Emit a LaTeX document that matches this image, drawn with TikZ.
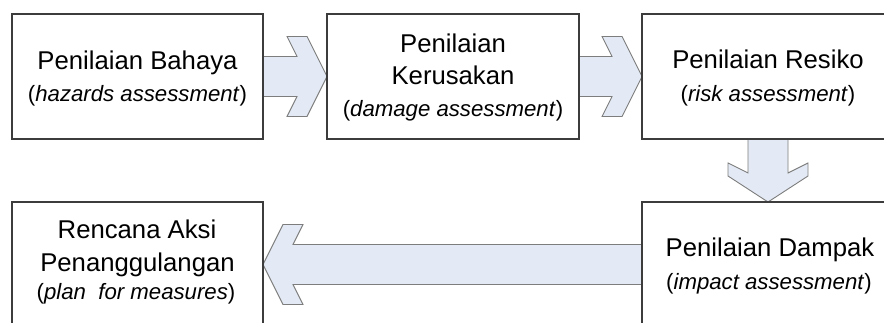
\documentclass[tikz,border=0pt]{standalone}
\usepackage{fontspec}
\setmainfont{Liberation Sans}
\usetikzlibrary{calc,backgrounds}
\definecolor{arrowfill}{RGB}{228,234,245}
\definecolor{arrowline}{RGB}{125,125,125}
\definecolor{boxline}{RGB}{60,60,60}
\tikzset{
  box/.style={draw=boxline, line width=1.2pt, fill=white, minimum height=125pt,
    inner sep=0pt, outer sep=0pt, anchor=north west},
  blockarrow/.style={draw=arrowline, fill=arrowfill, line width=0.9pt, line join=miter},
  maintext/.style={font=\fontsize{25.7}{30}\selectfont, anchor=base, inner sep=0pt},
  subtext/.style={font=\fontsize{22.2}{27}\selectfont, anchor=base, inner sep=0pt},
}
\begin{document}
\begin{tikzpicture}[x=1pt,y=-1pt]
\useasboundingbox (0,0) rectangle (884,323);
\clip (0,0) rectangle (884,323);
% boxes
\node[box, minimum width=251pt] (b1) at (12,14) {};
\node[box, minimum width=252pt] (b2) at (327,14) {};
\node[box, minimum width=252pt] (b3) at (642,14) {};
\node[box, minimum width=252pt] (b4) at (642,202) {};
\node[box, minimum width=251pt] (b5) at (12,202) {};
% block arrows
\begin{scope}[on background layer]
\draw[blockarrow] ($(b1.east)+(0,-20)$) -- ($(b2.west)+(-30,-20)$) -- ($(b2.west)+(-40,-40)$)
  -- ($(b2.west)+(-20,-40)$) -- (b2.west) -- ($(b2.west)+(-20,40)$) -- ($(b2.west)+(-40,40)$)
  -- ($(b2.west)+(-30,20)$) -- ($(b1.east)+(0,20)$) -- cycle;
\draw[blockarrow] ($(b2.east)+(0,-20)$) -- ($(b3.west)+(-30,-20)$) -- ($(b3.west)+(-40,-40)$)
  -- ($(b3.west)+(-20,-40)$) -- (b3.west) -- ($(b3.west)+(-20,40)$) -- ($(b3.west)+(-40,40)$)
  -- ($(b3.west)+(-30,20)$) -- ($(b2.east)+(0,20)$) -- cycle;
\draw[blockarrow] ($(b3.south)+(-20,0)$) -- ($(b4.north)+(-20,-29)$) -- ($(b4.north)+(-40,-39)$)
  -- ($(b4.north)+(-40,-26)$) -- (b4.north) -- ($(b4.north)+(40,-26)$) -- ($(b4.north)+(40,-39)$)
  -- ($(b4.north)+(20,-29)$) -- ($(b3.south)+(20,0)$) -- cycle;
\draw[blockarrow] ($(b4.west)+(0,-20)$) -- ($(b5.east)+(30,-20)$) -- ($(b5.east)+(40,-40)$)
  -- ($(b5.east)+(20,-40)$) -- (b5.east) -- ($(b5.east)+(20,40)$) -- ($(b5.east)+(40,40)$)
  -- ($(b5.east)+(30,20)$) -- ($(b4.west)+(0,20)$) -- cycle;
\end{scope}
% texts
\node[maintext] (t1a) at (137.5,70) {Penilaian Bahaya};
\node[subtext] (t1b) at (137.5,101.7) {(\textit{hazards assessment})};
\node[maintext] (t2a) at (453,52.7) {Penilaian};
\node[maintext] (t2b) at (453,85) {Kerusakan};
\node[subtext] (t2c) at (453,116.7) {(\textit{damage assessment})};
\node[maintext] (t3a) at (768,68.3) {Penilaian Resiko};
\node[subtext] (t3b) at (768,101.7) {(\textit{risk assessment})};
\node[maintext] (t4a) at (770,256.7) {Penilaian Dampak};
\node[subtext] (t4b) at (769,290) {(\textit{impact assessment})};
\node[maintext] (t5a) at (137,238.3) {Rencana Aksi};
\node[maintext] (t5b) at (137.5,271.7) {Penanggulangan};
\node[subtext] (t5c) at (136,300) {(\textit{plan\ \ for measures})};
\end{tikzpicture}
\end{document}
